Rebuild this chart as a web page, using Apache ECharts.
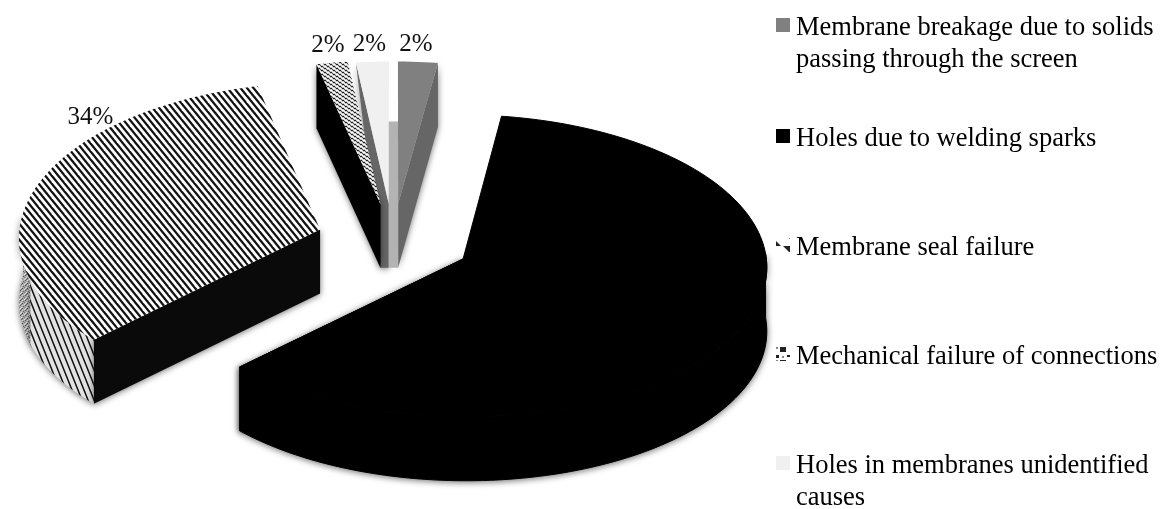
<!DOCTYPE html>
<html>
<head>
<meta charset="utf-8">
<style>html,body{margin:0;padding:0;background:#fff}#c{width:1161px;height:509px}</style>
<script src="https://cdn.jsdelivr.net/npm/echarts@6/dist/echarts.min.js"></script>
</head>
<body>
<div id="c"></div>
<script>
// ---- data (clockwise from 12 o'clock) ----
var categories = [
  'Membrane breakage due to solids\npassing through the screen',
  'Holes due to welding sparks',
  'Membrane seal failure',
  'Mechanical failure of connections',
  'Holes in membranes unidentified\ncauses'
];
var values = [2.3, 61, 33.8, 1.8, 1.9];
var labelVisible = [true, false, true, true, true];

// ---- 3D pie projection ----
var CX = 393, CY = 240.5, RX = 290, RY = 149, PERSP = 0.045, DEPTH = 64;
var explode = [0.25, 0.27, 0.263, 0.25, 0.25];
var radiusX = [1.02, 1.04, 1.04, 1.03, 1.02];
var radiusY = [1.02, 1, 1.04, 1.03, 1.02];
var labelOffset = [[-2, -17], [0, 0], [54, -69], [-4, -17], [-3, -17]];
var legendTops = [12, 123, 232, 341, 450];
var seriesZ = [4, 2, 2, 4, 3];

function project(u, v) {
  var s = 1 / (1 - PERSP * v);
  return [CX + RX * u * s, CY + RY * v * s];
}
var total = values.reduce(function (a, b) { return a + b; }, 0);
var starts = [], ends = [];
values.reduce(function (acc, v, i) {
  starts[i] = acc; ends[i] = acc + v / total * 360; return ends[i];
}, 0);
function rad(d) { return d * Math.PI / 180; }
function apexOf(i) {
  var m = rad((starts[i] + ends[i]) / 2);
  return [explode[i] * Math.sin(m), -explode[i] * Math.cos(m)];
}
function rimOf(i, deg) {
  var a = apexOf(i);
  return project(a[0] + radiusX[i] * Math.sin(rad(deg)), a[1] - radiusY[i] * Math.cos(rad(deg)));
}
function apexPt(i) { var a = apexOf(i); return project(a[0], a[1]); }
function down(p) { return [p[0], p[1] + DEPTH]; }
function arc(i, from, to) {
  var pts = [], n = Math.max(2, Math.ceil(Math.abs(to - from) / 1.5));
  for (var k = 0; k <= n; k++) pts.push(rimOf(i, from + (to - from) * k / n));
  return pts;
}

// ---- fill patterns ----
function tile(w, h, bg, draw) {
  var c = document.createElement('canvas');
  c.width = w; c.height = h;
  var g = c.getContext('2d');
  g.fillStyle = bg; g.fillRect(0, 0, w, h);
  draw(g, w, h);
  return { image: c, repeat: 'repeat' };
}
function stripes(w, h, count, lw, bg) {
  return tile(w, h, bg, function (g) {
    g.strokeStyle = '#111'; g.lineWidth = lw;
    for (var k = -2 * count; k <= 2 * count; k++) {
      var x = k * w / count;
      g.beginPath(); g.moveTo(x - w, -h); g.lineTo(x + 2 * w, 2 * h); g.stroke();
    }
  });
}
function cells(w, h, bg, list) {
  return tile(w, h, bg, function (g) {
    list.forEach(function (c) { g.fillStyle = c[0]; g.fillRect(c[1], c[2], c[3], c[4]); });
  });
}
var stripeTop = stripes(13, 16, 2, 2.3, '#fff');
var stripeWall = stripes(6, 15, 1, 1.5, '#e2e2e2');
var speckle = cells(5, 5, '#a8a8a8', [
  ['#555', 0, 0, 1, 1], ['#ddd', 2, 0, 1, 1], ['#666', 3, 1, 1, 1], ['#e5e5e5', 1, 2, 1, 1],
  ['#777', 4, 2, 1, 1], ['#444', 2, 3, 1, 1], ['#ddd', 0, 3, 1, 1], ['#e5e5e5', 4, 4, 1, 1], ['#666', 1, 4, 1, 1]
]);
var dotted = cells(6, 4, '#c4c4c4', [
  ['#222', 0, 0, 2, 1], ['#fff', 3, 0, 2, 1], ['#555', 2, 1, 1, 1], ['#eee', 5, 1, 1, 1],
  ['#222', 3, 2, 2, 1], ['#fff', 0, 2, 2, 1], ['#555', 5, 3, 1, 1], ['#eee', 2, 3, 1, 1]
]);
var iconSeal = tile(14, 14, '#fff', function (g) {
  g.fillStyle = '#222';
  g.beginPath(); g.moveTo(7, 0); g.lineTo(14, 0); g.lineTo(14, 7); g.closePath(); g.fill();
  g.beginPath(); g.moveTo(0, 9); g.lineTo(5, 14); g.lineTo(0, 14); g.closePath(); g.fill();
});
var iconMech = cells(14, 14, '#fff', [
  ['#222', 4, 5, 6, 6], ['#222', 0, 0, 3, 3], ['#222', 11, 0, 3, 2],
  ['#888', 0, 5, 2, 3], ['#888', 6, 1, 2, 2]
]);
var swatches = ['#808080', '#000000', iconSeal, iconMech, '#f0f0f0'];

// ---- per-slice drawing ----
var shadow = { shadowBlur: 6, shadowColor: 'rgba(0,0,0,0.55)', shadowOffsetY: 1 };
function poly(points, fill, withShadow, stroke) {
  var style = { fill: fill };
  if (withShadow) Object.assign(style, shadow);
  if (stroke) { style.stroke = stroke; style.lineWidth = 1; }
  return { type: 'polygon', shape: { points: points }, style: style, silent: true };
}
function wall(i, from, to, fill, stroke) {
  var top = arc(i, from, to);
  return poly(top.concat(top.slice().reverse().map(down)), fill, true, stroke);
}
function topFace(i, fill, stroke) {
  return poly([apexPt(i)].concat(arc(i, starts[i], ends[i])), fill, false, stroke);
}
function cutFace(i, deg, fill, stroke) {
  var r = rimOf(i, deg), a = apexPt(i);
  return poly([a, r, down(r), down(a)], fill, true, stroke);
}
var painters = [
  function () { // gray
    var a = apexPt(0), h = apexPt(4), r = rimOf(0, starts[0]);
    return [
      cutFace(0, ends[0], '#666666'),
      poly([[h[0], r[1] + DEPTH - 4], [a[0], r[1] + DEPTH - 4], down(a), down(h)], '#b3b3b3', false),
      topFace(0, '#808080')
    ];
  },
  function () { // black: only the wall facing the viewer is visible
    return [wall(1, 88, ends[1], '#000', '#000'), cutFace(1, ends[1], '#000', '#000'), topFace(1, '#000', '#000')];
  },
  function () { // stripes
    return [
      wall(2, 250, 276, speckle),
      wall(2, starts[2], 251, stripeWall),
      cutFace(2, starts[2], '#0a0a0a'),
      topFace(2, stripeTop)
    ];
  },
  function () { // dotted
    return [cutFace(3, starts[3], '#000'), topFace(3, dotted)];
  },
  function () { // light
    var a = apexPt(4), m = apexPt(3), r = rimOf(4, starts[4]);
    return [
      poly([r, a, down(a), [m[0], a[1] + DEPTH]], '#666666', true),
      topFace(4, '#f0f0f0')
    ];
  }
];
function renderSlice(params, api) {
  var i = api.value(0);
  var kids = painters[i]();
  if (labelVisible[i]) {
    var p = rimOf(i, (starts[i] + ends[i]) / 2);
    kids.push({
      type: 'text', silent: true,
      style: {
        x: p[0] + labelOffset[i][0], y: p[1] + labelOffset[i][1],
        text: Math.round(api.value(1) / total * 100) + '%',
        font: '25px "Liberation Serif"', fill: '#111',
        align: 'center', verticalAlign: 'middle'
      }
    });
  }
  return { type: 'group', children: kids };
}

var series = categories.map(function (name, i) {
  return {
    type: 'custom', name: name, coordinateSystem: 'none', silent: true, z: seriesZ[i],
    animation: false, renderItem: renderSlice,
    itemStyle: { color: '#000' },
    data: [[i, values[i]]]
  };
});
// the swatch sits beside the first text line, inside a symbol box as tall as the text
function swatchIcon(h) { return 'path://M0 6H14V20H0Z M0 0L0 0Z M14 ' + h + 'L14 ' + h + 'Z'; }
var legends = categories.map(function (name, i) {
  var h = name.indexOf('\n') >= 0 ? 64 : 32;
  return {
    left: 776, top: legendTops[i], padding: 0, orient: 'vertical',
    itemWidth: 14, itemHeight: h, selectedMode: false, itemGap: 0,
    textStyle: { fontFamily: 'Liberation Serif', fontSize: 26.5, lineHeight: 32, color: '#000', padding: [0, 0, 0, 1] },
    data: [{ name: name, icon: swatchIcon(h), itemStyle: { color: swatches[i] } }]
  };
});
var chart = echarts.init(document.getElementById('c'), null, { renderer: 'canvas' });
chart.setOption({ backgroundColor: '#fff', animation: false, tooltip: { show: false }, legend: legends, series: series });
</script>
</body>
</html>
